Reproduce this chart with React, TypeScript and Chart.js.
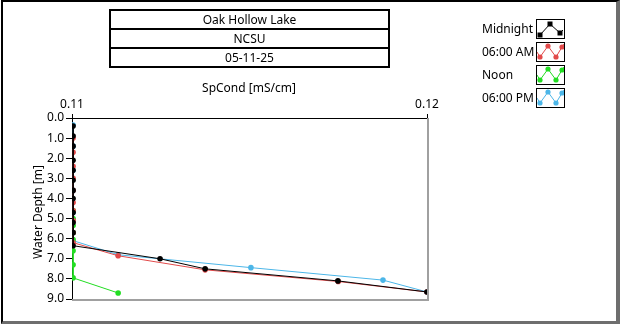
import React, { useEffect, useRef } from "react";
import { Chart, registerables } from "chart.js";

Chart.register(...registerables);

const titleLines = ["Oak Hollow Lake", "NCSU", "05-11-25"];
const xAxisTitle = "SpCond [mS/cm]";
const yAxisTitle = "Water Depth [m]";
const seriesNames = ["Midnight", "06:00 AM", "Noon", "06:00 PM"];
const seriesColors = ["#000000", "#e24a4a", "#22dd22", "#4cb6e8"];

const midnightDepth = [0.4, 0.9, 1.4, 2.1, 2.6, 3.1, 3.6, 4.0, 4.7, 5.2, 5.7, 6.35, 7.0, 7.5, 8.1, 8.65];
const midnightSpCond = [0.11003, 0.11003, 0.11003, 0.11003, 0.11003, 0.11003, 0.11003, 0.11003, 0.11003, 0.11003, 0.11003, 0.11003, 0.11248, 0.11375, 0.11749, 0.12];

const morningDepth = [1.0, 1.7, 2.4, 3.0, 3.6, 4.2, 4.6, 5.1, 5.7, 6.2, 6.85, 7.55, 8.13, 8.65];
const morningSpCond = [0.11003, 0.11003, 0.11003, 0.11003, 0.11003, 0.11003, 0.11003, 0.11003, 0.11003, 0.11003, 0.1113, 0.11375, 0.1175, 0.12];

const noonDepth = [4.6, 5.0, 5.35, 5.7, 6.05, 6.6, 7.3, 7.95, 8.7];
const noonSpCond = [0.11003, 0.11003, 0.11003, 0.11003, 0.11003, 0.11003, 0.11003, 0.11003, 0.1113];

const eveningDepth = [0.35, 1.4, 2.6, 3.6, 4.7, 5.7, 6.1, 6.8, 7.44, 8.06, 8.65];
const eveningSpCond = [0.11003, 0.11003, 0.11003, 0.11003, 0.11003, 0.11003, 0.11003, 0.1113, 0.11504, 0.11876, 0.12];

const xTicks = [0.11, 0.12];
const yTicks = [0, 1, 2, 3, 4, 5, 6, 7, 8, 9];

const FONT = "'Noto Sans', 'Open Sans', sans-serif";

function toPoints(xs: number[], ys: number[]) {
  return xs.map((x, i) => ({ x, y: ys[i] }));
}

const frameP = {
  id: "frameP",
  afterDraw(chart: any) {
    const { ctx, chartArea } = chart;
    ctx.save();
    ctx.strokeStyle = "#a0a0a0";
    ctx.lineWidth = 2;
    ctx.beginPath();
    ctx.moveTo(chartArea.right + 1, chartArea.top);
    ctx.lineTo(chartArea.right + 1, chartArea.bottom + 1);
    ctx.lineTo(chartArea.left, chartArea.bottom + 1);
    ctx.stroke();
    ctx.restore();
  },
};

function LegendIcon({ color, first }: { color: string; first: boolean }) {
  const pts = first
    ? [[3, 15], [13, 4], [23, 13]]
    : [[3, 14], [11, 3], [19, 14], [25, 4]];
  const line = first ? "1,17 3,15 13,4 23,13 26,10" : "0,9 3,14 11,3 19,14 25,4 27,1";
  return (
    <svg width={27} height={18} style={{ display: "block", border: "1px solid #000", background: "#fff" }}>
      <polyline points={line} fill="none" stroke={color} strokeWidth={1} />
      {pts.map((p, i) =>
        first ? (
          <rect key={i} x={p[0] - 2.5} y={p[1] - 2.5} width={5} height={5} fill={color} />
        ) : (
          <circle key={i} cx={p[0]} cy={p[1]} r={2.6} fill={color} />
        )
      )}
    </svg>
  );
}

export default function App() {
  const ref = useRef<HTMLCanvasElement | null>(null);

  useEffect(() => {
    document.body.style.margin = "0";
    if (!ref.current) return;
    Chart.defaults.font.family = FONT;
    Chart.defaults.font.size = 12;
    Chart.defaults.color = "#000";
    const sets = [
      toPoints(midnightSpCond, midnightDepth),
      toPoints(morningSpCond, morningDepth),
      toPoints(noonSpCond, noonDepth),
      toPoints(eveningSpCond, eveningDepth),
    ];
    const chart = new Chart(ref.current, {
      type: "scatter",
      data: {
        datasets: sets.map((d, i) => ({
          label: seriesNames[i],
          data: d,
          showLine: true,
          borderColor: seriesColors[i],
          backgroundColor: seriesColors[i],
          borderWidth: 1,
          pointRadius: 2.8,
          pointBorderWidth: 0,
          pointHoverRadius: 2.8,
        })),
      },
      options: {
        animation: false,
        responsive: false,
        events: [],
        layout: { padding: { left: 0, top: 0, right: 193, bottom: 25 } },
        plugins: { legend: { display: false }, tooltip: { enabled: false } },
        scales: {
          x: {
            type: "linear",
            position: "top",
            min: 0.11,
            max: 0.12,
            afterBuildTicks: (s: any) => {
              s.ticks = xTicks.map((v) => ({ value: v }));
            },
            ticks: {
              padding: 2,
              maxRotation: 0,
              callback: (v: any) => Number(v).toFixed(2),
            },
            grid: { drawOnChartArea: false, tickLength: 4, color: "#000" },
            border: { color: "#000", width: 1 },
            afterFit: (s: any) => {
              s.height = 118;
            },
          },
          y: {
            type: "linear",
            reverse: true,
            min: 0,
            max: 9,
            afterBuildTicks: (s: any) => {
              s.ticks = yTicks.map((v) => ({ value: v }));
            },
            ticks: {
              padding: 2,
              callback: (v: any) => Number(v).toFixed(1),
            },
            grid: { drawOnChartArea: false, tickLength: 6, color: "#000" },
            border: { color: "#000", width: 1 },
            afterFit: (s: any) => {
              s.width = 72;
            },
          },
        },
      },
      plugins: [frameP],
    } as any);
    return () => chart.destroy();
  }, []);

  const legendTops = [19, 42, 65, 88];

  return (
    <div style={{ position: "relative", width: 620, height: 324, background: "#fff", fontFamily: FONT, fontSize: 12, color: "#000", overflow: "hidden" }}>
      <canvas ref={ref} width={620} height={324} style={{ position: "absolute", left: 0, top: 0, width: 620, height: 324 }} />
      <div
        style={{
          position: "absolute",
          left: 1,
          top: 0,
          width: 619,
          height: 324,
          boxSizing: "border-box",
          borderLeft: "2px solid #000",
          borderTop: "2px solid #000",
          borderRight: "4px solid #6e6e6e",
          borderBottom: "3px solid #6e6e6e",
          pointerEvents: "none",
        }}
      />
      <div style={{ position: "absolute", left: 109, top: 9, width: 281, boxSizing: "border-box", border: "2px solid #000", background: "#fff" }}>
        {titleLines.map((t, i) => (
          <div
            key={i}
            style={{
              height: i < 2 ? 17 : 17,
              lineHeight: "17px",
              textAlign: "center",
              borderBottom: i < 2 ? "2px solid #000" : "none",
              whiteSpace: "nowrap",
            }}
          >
            {t}
          </div>
        ))}
      </div>
      <div style={{ position: "absolute", left: 149, width: 200, top: 80, textAlign: "center", lineHeight: "16px" }}>{xAxisTitle}</div>
      <div
        style={{
          position: "absolute",
          left: 38 - 60,
          top: 212 - 8,
          width: 120,
          lineHeight: "16px",
          textAlign: "center",
          transform: "rotate(-90deg)",
          whiteSpace: "nowrap",
        }}
      >
        {yAxisTitle}
      </div>
      {seriesNames.map((n, i) => (
        <React.Fragment key={n}>
          <div style={{ position: "absolute", left: 482, top: legendTops[i] + 10 - 8, lineHeight: "16px", whiteSpace: "nowrap" }}>{n}</div>
          <div style={{ position: "absolute", left: 536, top: legendTops[i] }}>
            <LegendIcon color={seriesColors[i]} first={i === 0} />
          </div>
        </React.Fragment>
      ))}
    </div>
  );
}
